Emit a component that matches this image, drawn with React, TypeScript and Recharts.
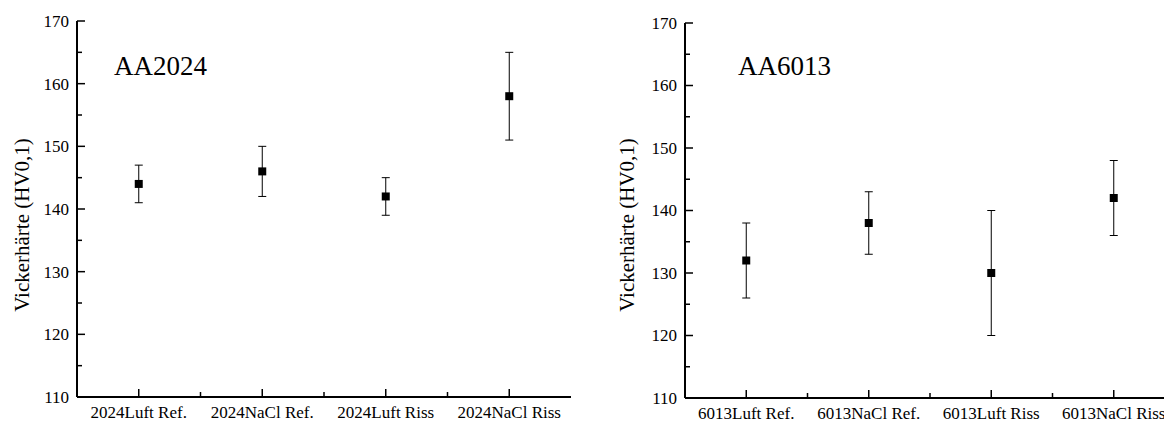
import React from "react";
import { ScatterChart, Scatter, XAxis, YAxis, ErrorBar, ZAxis } from "recharts";

const cats2024 = ["2024Luft Ref.", "2024NaCl Ref.", "2024Luft Riss", "2024NaCl Riss"];
const hv2024 = [144, 146, 142, 158];
const err2024 = [3, 4, 3, 7];

const cats6013 = ["6013Luft Ref.", "6013NaCl Ref.", "6013Luft Riss", "6013NaCl Riss"];
const hv6013 = [132, 138, 130, 142];
const err6013 = [6, 5, 10, 6];

const yTicks = [110, 115, 120, 125, 130, 135, 140, 145, 150, 155, 160, 165, 170];
const xTicks = [1, 1.5, 2, 2.5, 3, 3.5, 4];

const txt = (size: number): React.CSSProperties => ({
  fontFamily: '"Liberation Serif", "DejaVu Serif", serif',
  fontSize: size,
});

type PanelProps = {
  title: string;
  cats: string[];
  values: number[];
  errs: number[];
  yAxisWidth: number;
  marginTop: number;
  marginRight: number;
  xAxisHeight: number;
  titleX: number;
  labelX: number;
};

function Panel(p: PanelProps) {
  const data = p.values.map((v, i) => ({ x: i + 1, y: v, err: p.errs[i] }));

  // left axis: ticks point inward, labels outside
  const leftTick = (t: any) => {
    const major = t.payload.value % 10 === 0;
    return (
      <g>
        <line x1={t.x} x2={t.x + (major ? 8 : 5)} y1={t.y} y2={t.y} stroke="#000" strokeWidth={1.5} />
        {major && (
          <text x={t.x - 8} y={t.y} dy="0.35em" textAnchor="end" style={txt(17)} fill="#000">
            {t.payload.value}
          </text>
        )}
      </g>
    );
  };
  const rightTick = (t: any) => {
    const major = t.payload.value % 10 === 0;
    return <line x1={t.x} x2={t.x - (major ? 8 : 5)} y1={t.y} y2={t.y} stroke="#000" strokeWidth={1.5} />;
  };
  const bottomTick = (t: any) => {
    const v = t.payload.value;
    const major = Number.isInteger(v);
    return (
      <g>
        <line x1={t.x} x2={t.x} y1={t.y} y2={t.y - (major ? 8 : 5)} stroke="#000" strokeWidth={1.5} />
        {major && (
          <text x={t.x} y={t.y + 21} textAnchor="middle" style={txt(17)} fill="#000">
            {p.cats[v - 1]}
          </text>
        )}
      </g>
    );
  };
  const topTick = (t: any) => {
    const major = Number.isInteger(t.payload.value);
    return <line x1={t.x} x2={t.x} y1={t.y} y2={t.y + (major ? 8 : 5)} stroke="#000" strokeWidth={1.5} />;
  };

  return (
    <ScatterChart
      width={580}
      height={414}
      margin={{ top: p.marginTop, right: p.marginRight, bottom: 0, left: 0 }}
    >
      <XAxis
        xAxisId="b"
        dataKey="x"
        type="number"
        domain={[0.5, 4.5]}
        ticks={xTicks}
        interval={0}
        height={p.xAxisHeight}
        tickSize={0}
        tickMargin={0}
        tickLine={false}
        tick={bottomTick}
        axisLine={{ stroke: "#000", strokeWidth: 2 }}
        allowDataOverflow
      />
      <XAxis
        xAxisId="t"
        orientation="top"
        type="number"
        domain={[0.5, 4.5]}
        ticks={xTicks}
        interval={0}
        height={0}
        tickSize={0}
        tickMargin={0}
        tickLine={false}
        tick={topTick}
        axisLine={{ stroke: "#000", strokeWidth: 2 }}
        allowDataOverflow
      />
      <YAxis
        yAxisId="l"
        dataKey="y"
        type="number"
        domain={[110, 170]}
        ticks={yTicks}
        interval={0}
        width={p.yAxisWidth}
        tickSize={0}
        tickMargin={0}
        tickLine={false}
        tick={leftTick}
        axisLine={{ stroke: "#000", strokeWidth: 2 }}
        allowDataOverflow
      />
      <YAxis
        yAxisId="r"
        orientation="right"
        type="number"
        domain={[110, 170]}
        ticks={yTicks}
        interval={0}
        width={0}
        tickSize={0}
        tickMargin={0}
        tickLine={false}
        tick={rightTick}
        axisLine={{ stroke: "#000", strokeWidth: 2 }}
        allowDataOverflow
      />
      <ZAxis range={[64, 64]} />
      <Scatter data={data} xAxisId="b" yAxisId="l" shape="square" fill="#000" isAnimationActive={false}>
        <ErrorBar dataKey="err" direction="y" width={4} stroke="#000" strokeWidth={1} isAnimationActive={false} />
      </Scatter>
      <text x={p.titleX} y={67} style={txt(27)} fill="#000">
        {p.title}
      </text>
      <text
        transform={`translate(${p.labelX},217) rotate(-90)`}
        textAnchor="middle"
        style={txt(21)}
        fill="#000"
      >
        Vickerhärte (HV0,1)
      </text>
    </ScatterChart>
  );
}

export default function App() {
  return (
    <div style={{ position: "relative", width: 1164, height: 414, overflow: "hidden", background: "#fff" }}>
      <div style={{ position: "absolute", left: 0, top: 0 }}>
        <Panel
          title="AA2024"
          cats={cats2024}
          values={hv2024}
          errs={err2024}
          yAxisWidth={69}
          marginTop={13}
          marginRight={17}
          xAxisHeight={25}
          titleX={106}
          labelX={21}
        />
      </div>
      <div style={{ position: "absolute", left: 600, top: 0 }}>
        <Panel
          title="AA6013"
          cats={cats6013}
          values={hv6013}
          errs={err6013}
          yAxisWidth={77}
          marginTop={15}
          marginRight={13}
          xAxisHeight={24}
          titleX={130}
          labelX={26}
        />
      </div>
    </div>
  );
}
